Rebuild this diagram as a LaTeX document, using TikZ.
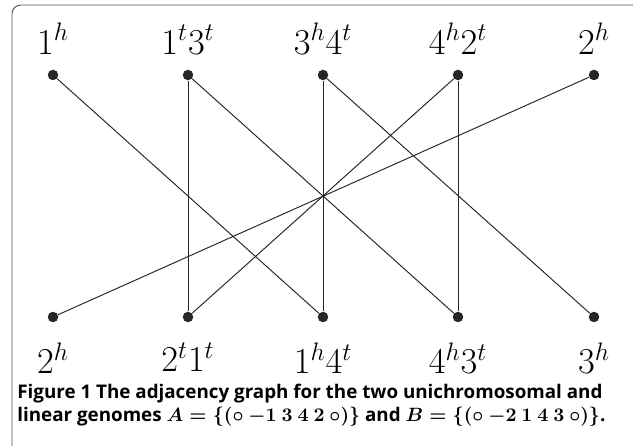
\documentclass[tikz,border=0pt]{standalone}
\usepackage{amsmath,amssymb}
\usepackage{fontspec}
\setsansfont{Open Sans}
\usepackage{tikz}
\usetikzlibrary{arrows.meta,positioning,calc}

\newcommand{\genomeA}{$A=\{(\circ\ {-1}\ 3\ 4\ 2\ \circ)\}$}
\newcommand{\genomeB}{$B=\{(\circ\ {-2}\ 1\ 4\ 3\ \circ)\}$}

\begin{document}
\begin{tikzpicture}[
  vertex/.style={circle, fill=black!85, inner sep=0pt, minimum size=2.1mm},
  vedge/.style={line width=0.55pt, black!85},
  vlabel/.style={inner sep=0pt, font=\fontsize{20.5}{24}\selectfont},
  caption/.style={anchor=west, inner sep=0pt, font=\sffamily\bfseries\boldmath\fontsize{10.7}{12}\selectfont}
]
\useasboundingbox (0,0) rectangle (12.66,8.92);
% frame of the figure
\draw[black!70, line width=0.5pt, rounded corners=5pt] (0.24,0) -- (0.24,8.82) -- (12.66,8.82);

% top row (genome A)
\node[vertex] (ta) at (1.06,7.42) {};
\node[vlabel, above=3mm of ta] {$1^h$};
\node[vertex] (tb) at (3.76,7.42) {};
\node[vlabel, above=3mm of tb] {$1^t3^t$};
\node[vertex] (tc) at (6.46,7.42) {};
\node[vlabel, above=3mm of tc] {$3^h4^t$};
\node[vertex] (td) at (9.16,7.42) {};
\node[vlabel, above=3mm of td] {$4^h2^t$};
\node[vertex] (te) at (11.88,7.42) {};
\node[vlabel, above=3mm of te] {$2^h$};

% bottom row (genome B)
\node[vertex] (ba) at (1.06,2.58) {};
\node[vlabel, below=4mm of ba] {$2^h$};
\node[vertex] (bb) at (3.76,2.58) {};
\node[vlabel, below=4mm of bb] {$2^t1^t$};
\node[vertex] (bc) at (6.46,2.58) {};
\node[vlabel, below=4mm of bc] {$1^h4^t$};
\node[vertex] (bd) at (9.16,2.58) {};
\node[vlabel, below=4mm of bd] {$4^h3^t$};
\node[vertex] (be) at (11.88,2.58) {};
\node[vlabel, below=4mm of be] {$3^h$};

\draw[vedge] (ta) -- (bc);
\draw[vedge] (tb) -- (bb);
\draw[vedge] (tb) -- (bd);
\draw[vedge] (tc) -- (bc);
\draw[vedge] (tc) -- (be);
\draw[vedge] (td) -- (bb);
\draw[vedge] (td) -- (bd);
\draw[vedge] (te) -- (ba);

% caption
\node[caption] (capa) at (0.34,1.04) {Figure 1 The adjacency graph for the two unichromosomal and};
\node[caption] (capb) at (0.34,0.58) {linear genomes \genomeA{} and \genomeB.};
\end{tikzpicture}
\end{document}
